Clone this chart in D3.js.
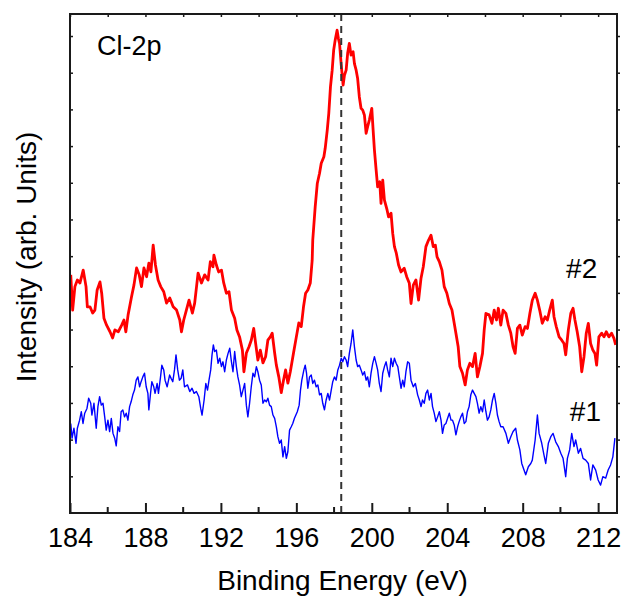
<!DOCTYPE html>
<html>
<head>
<meta charset="utf-8">
<script src="https://cdn.jsdelivr.net/npm/d3@7"></script>
<style>
  body { margin: 0; background: #fff; }
  text { font-family: "Liberation Sans", Arial, Helvetica, sans-serif; fill: #000; }
</style>
</head>
<body>
<svg id="chart" width="622" height="596"></svg>
<script>
// sample #2 (red), [binding energy eV, intensity arb.]
const spectrum2 = [
  [184.04,6.49],[184.14,5.53],[184.26,6.17],[184.39,6.35],[184.53,6.27],[184.70,6.62],[184.85,6.17],[184.92,5.62],[185.06,5.62],[185.20,5.45],
  [185.32,5.53],[185.44,6.08],[185.59,6.30],[185.68,5.99],[185.80,5.31],[185.94,5.12],[186.12,4.94],[186.26,4.77],[186.38,4.99],[186.56,4.94],
  [186.74,5.12],[186.86,5.26],[186.96,4.94],[187.08,5.40],[187.26,5.89],[187.39,6.21],[187.53,6.68],[187.67,6.49],[187.79,6.17],[187.92,6.68],
  [188.06,6.44],[188.18,6.81],[188.29,6.57],[188.41,7.30],[188.53,6.76],[188.67,6.35],[188.81,6.17],[188.97,6.03],[189.12,5.72],[189.29,5.86],
  [189.47,5.62],[189.65,5.53],[189.82,5.26],[189.91,4.94],[190.03,5.26],[190.17,5.53],[190.31,5.80],[190.49,5.45],[190.61,5.72],[190.79,6.54],
  [190.97,6.27],[191.14,6.49],[191.32,6.35],[191.44,6.85],[191.58,6.71],[191.63,7.03],[191.76,6.76],[191.88,6.57],[192.03,6.62],[192.15,6.27],
  [192.29,5.99],[192.43,6.03],[192.56,5.53],[192.73,5.31],[192.85,4.99],[192.99,4.80],[193.14,4.44],[193.22,3.85],[193.35,4.36],[193.49,4.53],
  [193.61,4.71],[193.74,5.03],[193.84,4.63],[193.96,4.17],[194.09,4.44],[194.23,4.09],[194.37,4.26],[194.49,4.71],[194.62,4.80],[194.72,4.90],
  [194.85,4.36],[194.94,4.03],[195.07,3.71],[195.20,3.28],[195.32,3.62],[195.43,3.90],[195.55,3.54],[195.68,3.85],[195.85,4.36],[196.00,4.80],
  [196.13,5.18],[196.26,5.08],[196.38,5.62],[196.49,5.99],[196.61,6.08],[196.74,6.27],[196.84,6.89],[196.87,7.44],[197.00,8.35],[197.11,8.98],
  [197.23,9.26],[197.32,9.53],[197.46,9.71],[197.53,9.94],[197.64,10.44],[197.72,10.89],[197.81,11.62],[197.90,12.07],[197.98,12.62],[198.06,12.89],
  [198.16,13.16],[198.23,12.93],[198.29,12.80],[198.38,12.21],[198.48,11.66],[198.55,11.93],[198.64,12.07],[198.72,12.53],[198.81,12.80],[198.90,12.48],
  [199.01,12.57],[199.08,12.25],[199.17,12.07],[199.25,11.84],[199.34,11.34],[199.43,11.03],[199.52,10.98],[199.61,10.84],[199.70,10.35],[199.78,10.53],
  [199.87,10.71],[200.00,11.03],[200.07,10.44],[200.14,9.89],[200.23,9.35],[200.31,8.89],[200.42,9.03],[200.49,8.44],[200.58,9.07],[200.67,8.53],
  [200.81,8.26],[200.89,8.07],[201.02,8.17],[201.11,7.62],[201.20,7.26],[201.30,7.08],[201.42,6.76],[201.55,6.57],[201.72,6.67],[201.85,6.44],
  [201.99,6.26],[202.08,5.71],[202.20,6.21],[202.34,6.35],[202.48,5.80],[202.61,6.40],[202.73,6.71],[202.87,7.26],[203.01,7.44],[203.14,7.57],
  [203.26,7.26],[203.37,7.30],[203.46,6.98],[203.58,6.85],[203.72,6.62],[203.84,6.17],[203.98,5.99],[204.11,5.71],[204.25,5.53],[204.37,5.17],
  [204.46,4.90],[204.58,4.53],[204.67,3.99],[204.81,3.81],[204.95,3.49],[205.07,3.90],[205.20,4.08],[205.34,3.99],[205.48,4.35],[205.60,3.71],
  [205.73,3.99],[205.87,4.35],[205.96,4.99],[206.05,5.44],[206.22,5.40],[206.37,5.17],[206.49,5.53],[206.61,5.26],[206.71,5.58],[206.84,5.12],
  [206.96,5.53],[207.11,5.44],[207.24,5.12],[207.37,4.90],[207.49,4.53],[207.60,4.35],[207.72,5.03],[207.85,5.12],[207.98,4.85],[208.13,5.08],
  [208.25,5.03],[208.38,5.44],[208.51,5.80],[208.66,5.99],[208.78,5.80],[208.90,5.53],[209.04,5.17],[209.19,5.35],[209.31,5.26],[209.43,5.53],
  [209.57,5.80],[209.66,5.35],[209.78,5.08],[209.93,4.80],[210.07,4.71],[210.19,4.62],[210.28,4.31],[210.42,4.99],[210.55,5.44],[210.67,5.58],
  [210.77,5.26],[210.89,4.94],[211.02,4.53],[211.13,3.85],[211.25,4.26],[211.37,4.90],[211.48,5.17],[211.60,4.62],[211.72,4.44],[211.83,4.35],
  [211.92,4.03],[212.04,4.80],[212.19,4.90],[212.31,4.80],[212.43,4.94],[212.57,4.80],[212.71,4.90],[212.84,4.76],[212.93,4.58]
];

// sample #1 (blue)
const spectrum1 = [
  [184.04,2.44],[184.11,2.04],[184.21,2.31],[184.32,1.90],[184.39,2.31],[184.51,2.53],[184.60,2.76],[184.69,2.44],[184.78,2.72],[184.90,2.85],
  [184.99,3.13],[185.10,2.99],[185.16,2.67],[185.27,2.99],[185.39,2.31],[185.48,2.90],[185.57,3.17],[185.66,2.94],[185.75,2.99],[185.84,2.62],
  [185.92,2.26],[186.01,2.53],[186.10,2.22],[186.19,2.58],[186.28,2.17],[186.37,2.04],[186.45,1.83],[186.54,2.35],[186.63,2.22],[186.71,2.76],
  [186.80,2.81],[186.89,2.62],[186.98,2.72],[187.07,2.53],[187.16,2.90],[187.24,3.03],[187.33,3.22],[187.42,3.35],[187.51,3.62],[187.60,3.71],
  [187.69,3.44],[187.77,3.58],[187.86,3.71],[187.95,3.81],[188.04,3.44],[188.13,3.26],[188.18,2.81],[188.27,3.26],[188.34,3.58],[188.44,3.44],
  [188.51,3.26],[188.62,3.53],[188.69,3.26],[188.80,3.71],[188.87,4.03],[188.97,3.90],[189.04,3.62],[189.15,3.44],[189.28,3.76],[189.36,3.67],
  [189.45,3.58],[189.54,3.90],[189.62,4.31],[189.71,3.90],[189.80,3.62],[189.89,3.67],[189.98,3.90],[190.07,3.44],[190.23,3.49],[190.35,3.31],
  [190.47,3.40],[190.58,3.26],[190.70,3.31],[190.83,3.17],[190.93,2.85],[191.00,2.67],[191.11,3.08],[191.20,3.53],[191.29,3.35],[191.37,3.62],
  [191.46,3.90],[191.53,4.31],[191.60,4.58],[191.67,4.40],[191.76,4.44],[191.85,4.08],[191.94,4.22],[192.03,3.99],[192.11,4.12],[192.20,3.85],
  [192.29,4.17],[192.38,4.35],[192.47,4.49],[192.56,4.12],[192.64,3.85],[192.73,4.40],[192.82,3.99],[192.90,3.71],[192.99,3.49],[193.08,3.17],
  [193.17,3.35],[193.26,3.53],[193.35,2.94],[193.43,2.62],[193.52,2.99],[193.61,3.44],[193.70,3.81],[193.79,3.71],[193.88,3.99],[193.96,3.85],
  [194.05,3.62],[194.14,3.49],[194.23,2.99],[194.32,3.08],[194.41,3.03],[194.49,3.13],[194.58,2.94],[194.67,2.90],[194.76,2.67],[194.85,2.58],
  [194.94,2.35],[195.02,2.08],[195.11,1.90],[195.20,1.99],[195.29,1.53],[195.38,1.81],[195.47,1.49],[195.55,1.67],[195.64,2.26],[195.73,2.35],
  [195.81,2.44],[195.90,2.58],[196.05,2.76],[196.15,2.94],[196.22,3.35],[196.29,3.62],[196.40,3.90],[196.47,4.03],[196.54,3.81],[196.61,3.40],
  [196.70,3.71],[196.79,3.76],[196.87,3.53],[196.96,3.62],[197.05,3.44],[197.14,3.49],[197.23,3.22],[197.32,3.26],[197.40,2.99],[197.49,2.81],
  [197.58,3.08],[197.67,3.26],[197.76,3.08],[197.85,3.35],[197.93,3.58],[198.02,3.71],[198.11,3.62],[198.20,3.90],[198.29,4.03],[198.38,4.22],
  [198.46,4.12],[198.55,4.26],[198.64,4.17],[198.72,3.99],[198.81,4.35],[198.90,4.62],[198.99,4.99],[199.08,4.53],[199.17,4.17],[199.25,3.99],
  [199.34,4.03],[199.43,3.90],[199.52,3.76],[199.61,3.85],[199.70,3.62],[199.78,3.71],[199.87,3.44],[199.96,3.81],[200.05,4.08],[200.14,4.26],
  [200.23,4.08],[200.31,3.90],[200.40,3.53],[200.49,3.31],[200.58,3.81],[200.67,3.99],[200.76,4.12],[200.84,3.90],[200.93,3.71],[201.02,4.22],
  [201.11,3.99],[201.20,4.22],[201.29,4.08],[201.38,3.99],[201.46,3.71],[201.55,3.40],[201.64,3.62],[201.72,3.44],[201.81,3.85],[201.90,4.12],
  [201.99,4.08],[202.08,3.62],[202.20,3.44],[202.31,3.53],[202.43,3.22],[202.52,3.08],[202.61,2.90],[202.69,3.08],[202.78,2.99],[202.87,3.26],
  [202.96,3.35],[203.05,3.08],[203.14,3.26],[203.22,2.90],[203.31,2.72],[203.40,2.49],[203.49,2.62],[203.58,2.76],[203.67,2.53],[203.75,2.17],
  [203.84,2.40],[203.93,2.44],[204.02,2.58],[204.11,2.72],[204.20,2.53],[204.28,2.53],[204.37,2.40],[204.46,2.13],[204.55,2.35],[204.63,2.49],
  [204.72,2.62],[204.81,2.72],[204.90,2.44],[204.99,2.49],[205.07,2.76],[205.16,2.90],[205.25,3.22],[205.34,3.35],[205.43,3.26],[205.52,3.17],
  [205.60,2.99],[205.69,2.72],[205.78,2.90],[205.87,2.76],[205.96,3.08],[206.05,2.76],[206.13,2.53],[206.22,2.62],[206.31,2.81],[206.40,3.08],
  [206.49,3.26],[206.58,2.99],[206.66,2.67],[206.75,2.49],[206.84,2.35],[206.96,2.35],[207.11,2.17],[207.24,1.90],[207.37,2.08],[207.49,2.22],
  [207.63,2.31],[207.72,1.99],[207.85,1.72],[207.95,1.35],[208.07,1.17],[208.16,1.04],[208.30,1.26],[208.43,1.35],[208.51,1.44],[208.66,1.99],
  [208.78,2.67],[208.87,2.17],[209.01,1.90],[209.13,1.58],[209.22,1.35],[209.36,1.90],[209.49,2.08],[209.61,2.17],[209.75,1.94],[209.89,1.81],
  [210.02,1.63],[210.14,1.49],[210.28,0.99],[210.37,1.49],[210.49,1.72],[210.60,2.17],[210.72,1.81],[210.81,1.99],[210.95,1.63],[211.07,1.76],
  [211.20,1.49],[211.34,1.44],[211.48,1.35],[211.60,0.90],[211.72,1.31],[211.87,1.17],[212.00,0.90],[212.13,0.76],[212.25,0.99],[212.40,0.95],
  [212.53,1.17],[212.66,1.31],[212.78,1.53],[212.89,2.04]
];

const energyLabels = [184, 188, 192, 196, 200, 204, 208, 212];
const energyMinor = [186, 190, 194, 198, 202, 206, 210];
const intensityTicks = [1, 2, 3, 4, 5, 6, 7, 8, 9, 10, 11, 12, 13];
const referenceEnergy = 198.38;
const seriesLabels = [
  { name: "#2", energy: 210.3, value: 6.4 },
  { name: "#1", energy: 210.5, value: 2.52 }
];

var margin = {top: 14, right: 5, bottom: 83, left: 70},
    width = 622 - margin.left - margin.right,
    height = 596 - margin.top - margin.bottom;

var svg = d3.select("#chart");
var g = svg.append("g")
    .attr("transform", "translate(" + margin.left + "," + margin.top + ")");

var x = d3.scaleLinear().domain([184, 213]).range([0, width]);
var y = d3.scaleLinear().domain([0, 13.6]).range([height, 0]);

g.append("clipPath").attr("id", "plotclip")
  .append("rect").attr("width", width).attr("height", height);

// bottom axis: labelled major ticks + short minor ticks, all pointing in
var xAxis = g.append("g")
    .attr("transform", "translate(0," + height + ")")
    .call(d3.axisBottom(x).tickValues(energyLabels).tickSize(-10).tickPadding(15).tickFormat(d3.format("d")));
xAxis.select(".domain").remove();
xAxis.selectAll("line").attr("stroke", "#1a1a1a").attr("stroke-width", 2);
xAxis.selectAll("text").style("font-size", "27px").attr("fill", "#000");

g.append("g").selectAll("line")
  .data(energyMinor).enter().append("line")
    .attr("x1", function(d) { return x(d); }).attr("x2", function(d) { return x(d); })
    .attr("y1", height).attr("y2", height - 6)
    .attr("stroke", "#1a1a1a").attr("stroke-width", 2);

// top ticks every 2 eV
var topAxis = g.append("g")
    .call(d3.axisTop(x).tickValues(energyLabels.concat(energyMinor)).tickSize(-3).tickFormat(""));
topAxis.select(".domain").remove();
topAxis.selectAll("line").attr("stroke", "#1a1a1a").attr("stroke-width", 1.5);

// left ticks inward, right ticks outward
var leftAxis = g.append("g")
    .call(d3.axisLeft(y).tickValues(intensityTicks).tickSize(-3).tickFormat(""));
leftAxis.select(".domain").remove();
leftAxis.selectAll("line").attr("stroke", "#1a1a1a").attr("stroke-width", 1.5);

var rightAxis = g.append("g")
    .attr("transform", "translate(" + width + ",0)")
    .call(d3.axisRight(y).tickValues(intensityTicks).tickSize(3).tickFormat(""));
rightAxis.select(".domain").remove();
rightAxis.selectAll("line").attr("stroke", "#1a1a1a").attr("stroke-width", 1.5);

var line = d3.line()
    .x(function(d) { return x(d[0]); })
    .y(function(d) { return y(d[1]); });

var plot = g.append("g").attr("clip-path", "url(#plotclip)");

plot.append("path")
    .datum(spectrum1)
    .attr("d", line)
    .attr("style", "fill: none; stroke: #0000ff; stroke-width: 1.4px; stroke-linejoin: round;");

plot.append("path")
    .datum(spectrum2)
    .attr("d", line)
    .attr("style", "fill: none; stroke: #ff0000; stroke-width: 2.8px; stroke-linejoin: round;");

// dashed reference line
g.append("line")
    .attr("x1", x(referenceEnergy)).attr("x2", x(referenceEnergy))
    .attr("y1", 0).attr("y2", height)
    .attr("stroke", "#333").attr("stroke-width", 2)
    .attr("stroke-dasharray", "7,5");

// frame
g.append("rect")
    .attr("width", width).attr("height", height)
    .attr("fill", "none").attr("stroke", "#1a1a1a").attr("stroke-width", 2);

// labels
g.append("text")
    .attr("x", 27).attr("y", 41)
    .style("font-size", "27px")
    .text("Cl-2p");

g.selectAll(".serieslabel")
  .data(seriesLabels).enter().append("text")
    .attr("class", "serieslabel")
    .attr("x", function(d) { return x(d.energy); })
    .attr("y", function(d) { return y(d.value); })
    .style("font-size", "28px")
    .text(function(d) { return d.name; });

svg.append("text")
    .attr("x", margin.left + width / 2 - 1)
    .attr("y", 590)
    .attr("text-anchor", "middle")
    .style("font-size", "28px")
    .text("Binding Energy (eV)");

svg.append("text")
    .attr("transform", "translate(36,257) rotate(-90)")
    .attr("text-anchor", "middle")
    .style("font-size", "28px")
    .text("Intensity (arb. Units)");
</script>
</body>
</html>
